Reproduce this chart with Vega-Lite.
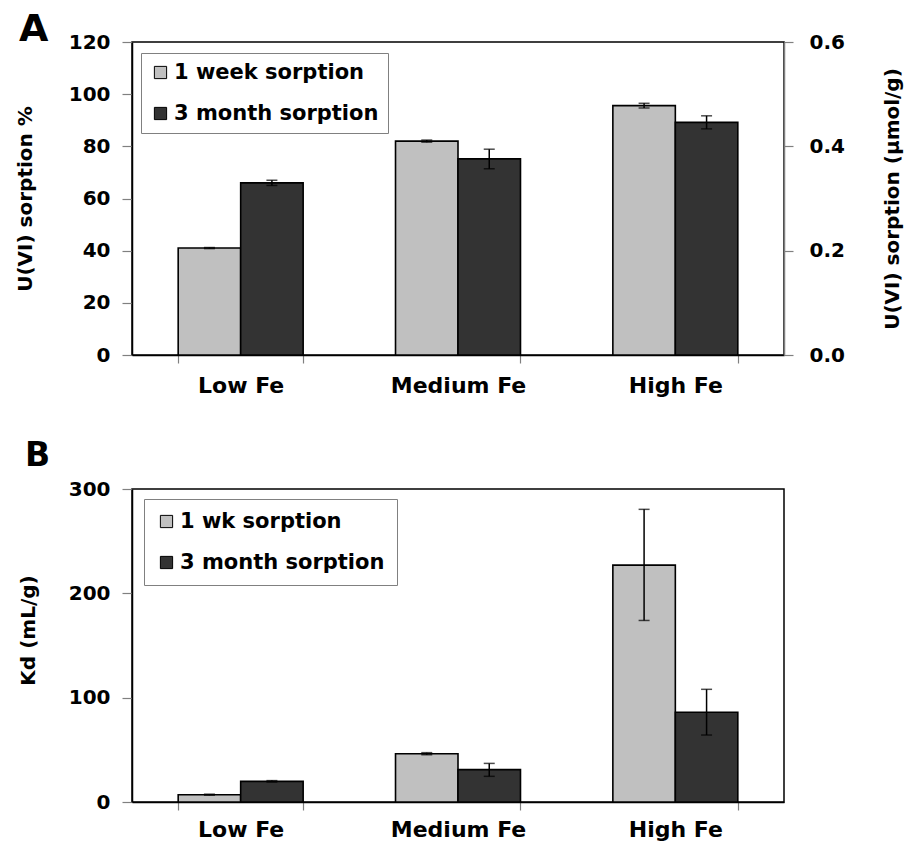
{
  "$schema": "https://vega.github.io/schema/vega-lite/v6.json",
  "padding": {"left": 14, "top": 10, "right": 5, "bottom": 5},
  "background": "white",
  "datasets": {
    "a": [
      {"fe": "Low Fe", "series": "1 week sorption", "value": 41.0, "lo": 40.8, "hi": 41.2},
      {"fe": "Low Fe", "series": "3 month sorption", "value": 66.0, "lo": 65.0, "hi": 67.0},
      {"fe": "Medium Fe", "series": "1 week sorption", "value": 82.0, "lo": 81.6, "hi": 82.4},
      {"fe": "Medium Fe", "series": "3 month sorption", "value": 75.2, "lo": 71.4, "hi": 78.9},
      {"fe": "High Fe", "series": "1 week sorption", "value": 95.6, "lo": 94.7, "hi": 96.5},
      {"fe": "High Fe", "series": "3 month sorption", "value": 89.2, "lo": 86.7, "hi": 91.7}
    ],
    "b": [
      {"fe": "Low Fe", "series": "1 wk sorption", "value": 7.0, "lo": 6.5, "hi": 7.5},
      {"fe": "Low Fe", "series": "3 month sorption", "value": 19.8, "lo": 19.1, "hi": 20.5},
      {"fe": "Medium Fe", "series": "1 wk sorption", "value": 46.3, "lo": 45.3, "hi": 47.3},
      {"fe": "Medium Fe", "series": "3 month sorption", "value": 31.0, "lo": 24.6, "hi": 37.0},
      {"fe": "High Fe", "series": "1 wk sorption", "value": 227.0, "lo": 174.0, "hi": 280.5},
      {"fe": "High Fe", "series": "3 month sorption", "value": 86.0, "lo": 64.2, "hi": 108.0}
    ]
  },
  "vconcat": [
    {
      "title": {"text": "A", "anchor": "start", "frame": "group", "fontSize": 38, "dx": -113, "offset": -37, "baseline": "alphabetic", "dy": 10},
      "width": 652,
      "height": 313,
      "data": {"name": "a"},
      "layer": [
        {
          "layer": [
            {
              "mark": {"type": "bar", "stroke": "black", "strokeWidth": 1.6},
              "encoding": {
                "x": {"field": "fe", "type": "nominal", "sort": ["Low Fe", "Medium Fe", "High Fe"],
                      "scale": {"paddingInner": 0.425, "paddingOuter": 0.2125},
                      "axis": {"title": null, "labelAngle": 0, "labelFontSize": 22, "tickBand": "extent", "tickSize": 8, "labelPadding": 12}},
                "xOffset": {"field": "series", "type": "nominal", "scale": {"paddingInner": 0, "paddingOuter": 0}},
                "y": {"field": "value", "type": "quantitative", "scale": {"domain": [0, 120], "nice": false},
                      "axis": {"title": "U(VI) sorption %", "values": [0, 20, 40, 60, 80, 100, 120], "labelFontSize": 20, "tickSize": 10, "labelPadding": 12, "titleFontSize": 20, "titlePadding": 33}},
                "color": {"field": "series", "type": "nominal", "scale": {"range": ["#C0C0C0", "#333333"]},
                          "legend": {"title": null, "orient": "none", "legendX": 9, "legendY": 11}}
              }
            },
            {
              "mark": {"type": "rule", "stroke": "black", "strokeWidth": 1.5},
              "encoding": {
                "x": {"field": "fe", "type": "nominal", "sort": ["Low Fe", "Medium Fe", "High Fe"]},
                "xOffset": {"field": "series", "type": "nominal"},
                "y": {"field": "lo", "type": "quantitative"},
                "y2": {"field": "hi"}
              }
            },
            {
              "mark": {"type": "tick", "color": "black", "thickness": 1.5, "size": 11},
              "encoding": {
                "x": {"field": "fe", "type": "nominal", "sort": ["Low Fe", "Medium Fe", "High Fe"]},
                "xOffset": {"field": "series", "type": "nominal"},
                "y": {"field": "lo", "type": "quantitative"}
              }
            },
            {
              "mark": {"type": "tick", "color": "black", "thickness": 1.5, "size": 11},
              "encoding": {
                "x": {"field": "fe", "type": "nominal", "sort": ["Low Fe", "Medium Fe", "High Fe"]},
                "xOffset": {"field": "series", "type": "nominal"},
                "y": {"field": "hi", "type": "quantitative"}
              }
            }
          ]
        },
        {
          "mark": {"type": "rule", "strokeOpacity": 0},
          "encoding": {
            "y": {"datum": 0, "type": "quantitative", "scale": {"domain": [0, 0.6], "nice": false},
                  "axis": {"orient": "right", "title": "U(VI) sorption (µmol/g)", "values": [0, 0.2, 0.4, 0.6], "format": ".1f",
                           "labelFontSize": 20, "tickSize": 9, "labelPadding": 16, "titleFontSize": 20, "titlePadding": 38,
                           "titleAngle": -90, "titleBaseline": "top", "domainColor": "#808080"}}
          }
        }
      ],
      "resolve": {"scale": {"y": "independent"}}
    },
    {
      "title": {"text": "B", "anchor": "start", "frame": "group", "fontSize": 33, "dx": -107, "offset": -10, "baseline": "alphabetic", "dy": 10},
      "width": 652,
      "height": 313,
      "data": {"name": "b"},
      "layer": [
        {
          "mark": {"type": "bar", "stroke": "black", "strokeWidth": 1.6},
          "encoding": {
            "x": {"field": "fe", "type": "nominal", "sort": ["Low Fe", "Medium Fe", "High Fe"],
                  "scale": {"paddingInner": 0.425, "paddingOuter": 0.2125},
                  "axis": {"title": null, "labelAngle": 0, "labelFontSize": 22, "tickBand": "extent", "tickSize": 8, "labelPadding": 9}},
            "xOffset": {"field": "series", "type": "nominal", "scale": {"paddingInner": 0, "paddingOuter": 0}},
            "y": {"field": "value", "type": "quantitative", "scale": {"domain": [0, 300], "nice": false},
                  "axis": {"title": "Kd (mL/g)", "titleY": 141, "values": [0, 100, 200, 300], "labelFontSize": 20, "tickSize": 10, "labelPadding": 12, "titleFontSize": 20, "titlePadding": 30}},
            "color": {"field": "series", "type": "nominal", "scale": {"range": ["#C0C0C0", "#333333"]},
                      "legend": {"title": null, "orient": "none", "legendX": 12, "legendY": 10, "padding": 12}}
          }
        },
        {
          "mark": {"type": "rule", "stroke": "black", "strokeWidth": 1.5},
          "encoding": {
            "x": {"field": "fe", "type": "nominal", "sort": ["Low Fe", "Medium Fe", "High Fe"]},
            "xOffset": {"field": "series", "type": "nominal"},
            "y": {"field": "lo", "type": "quantitative"},
            "y2": {"field": "hi"}
          }
        },
        {
          "mark": {"type": "tick", "color": "black", "thickness": 1.5, "size": 11},
          "encoding": {
            "x": {"field": "fe", "type": "nominal", "sort": ["Low Fe", "Medium Fe", "High Fe"]},
            "xOffset": {"field": "series", "type": "nominal"},
            "y": {"field": "lo", "type": "quantitative"}
          }
        },
        {
          "mark": {"type": "tick", "color": "black", "thickness": 1.5, "size": 11},
          "encoding": {
            "x": {"field": "fe", "type": "nominal", "sort": ["Low Fe", "Medium Fe", "High Fe"]},
            "xOffset": {"field": "series", "type": "nominal"},
            "y": {"field": "hi", "type": "quantitative"}
          }
        }
      ]
    }
  ],
  "spacing": 42,
  "resolve": {"scale": {"color": "independent", "xOffset": "independent", "x": "independent"}, "legend": {"color": "independent"}},
  "config": {
    "font": "DejaVu Sans",
    "view": {"stroke": "black", "strokeWidth": 1.5},
    "axis": {
      "labelFont": "DejaVu Sans", "labelFontWeight": "bold", "labelColor": "black",
      "titleFont": "DejaVu Sans", "titleFontWeight": "bold", "titleColor": "black",
      "grid": false, "domainColor": "black", "domainWidth": 1.5,
      "tickColor": "#808080", "tickWidth": 1.2
    },
    "legend": {
      "labelFont": "DejaVu Sans", "labelFontWeight": "bold", "labelFontSize": 21, "labelColor": "black",
      "symbolType": "square", "symbolSize": 150, "symbolStrokeColor": "black", "symbolStrokeWidth": 1,
      "rowPadding": 19, "padding": 9, "labelOffset": 3, "strokeColor": "#808080", "strokeWidth": 1,
      "fillColor": "white", "labelLimit": 400
    },
    "title": {"font": "DejaVu Sans", "fontWeight": "bold", "color": "black"}
  }
}
